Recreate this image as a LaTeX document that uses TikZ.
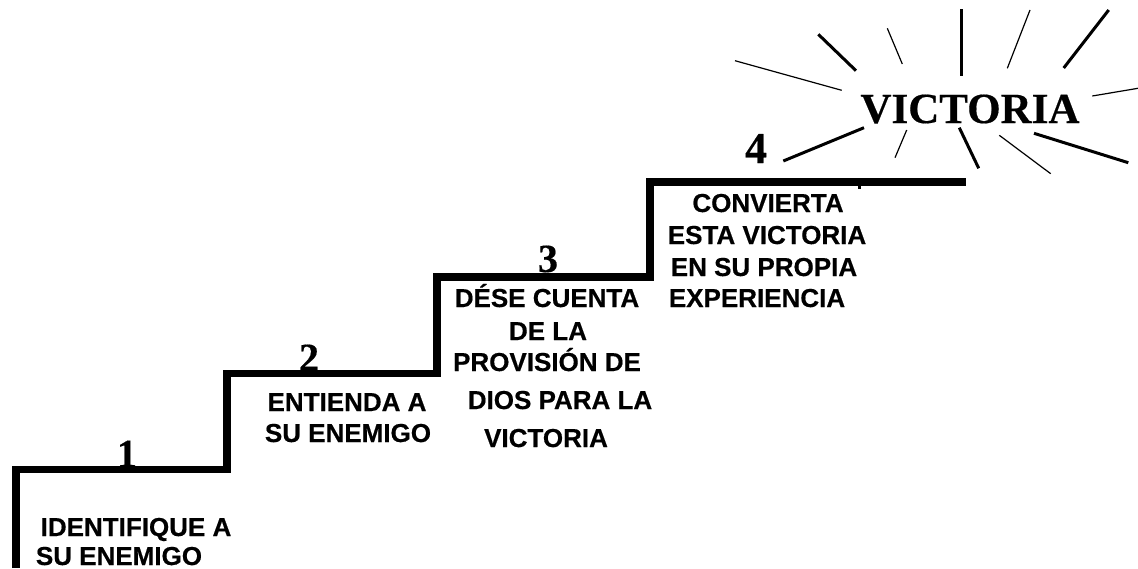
\documentclass[tikz,border=0pt]{standalone}
\usepackage{fontspec}
\setmainfont{Liberation Sans}[BoldFeatures={FakeBold=0.5}]
\newfontfamily\serifnum{Liberation Serif}[BoldFeatures={FakeBold=0.4}]
\tikzset{
  x=1pt,y=-1pt,
  stairline/.style={line width=7.5pt,line cap=butt,line join=miter},
  raythick/.style={line width=3pt},
  raythin/.style={line width=1.2pt},
  lab/.style={anchor=base,inner sep=0pt,font=\fontsize{26}{28}\selectfont\bfseries},
  numlab/.style={anchor=base,inner sep=0pt,font=\fontsize{40}{44}\selectfont\serifnum\bfseries},
}
\begin{document}
\begin{tikzpicture}
\useasboundingbox (0,0) rectangle (1138,568);
\fill[white] (0,0) rectangle (1138,568);
% numbers
\node[numlab] (n1) at (127,467) {1};
\node[numlab] (n2) at (309,371) {2};
\node[numlab] (n3) at (548,272) {3};
\node[numlab,font=\fontsize{44}{48}\selectfont\serifnum\bfseries] (n4) at (756,163) {4};
% stairs
\draw[stairline] (16,568) -- (16,469.5) -- (227,469.5) -- (227,373.5) -- (437,373.5) -- (437,277) -- (650,277) -- (650,182) -- (966,182);
\fill (858,182) rectangle (861,189);
% victory
\node[anchor=base,inner sep=0pt,font=\fontsize{43}{46}\selectfont\serifnum\bfseries] (vic) at (970,123) {VICTORIA};
% rays
\draw[raythick] (818.3,34.3) -- (856,70.7);
\draw[raythin] (887.3,28.3) -- (902.3,64);
\draw[raythick] (961,9.3) -- (961,75.7);
\draw[raythin] (1030,10) -- (1007.3,68.3);
\draw[raythick] (1108.7,10) -- (1063.7,68);
\draw[raythin] (1138,88.3) -- (1092.3,96);
\draw[raythin] (735,60.7) -- (841.7,90.3);
\draw[raythick] (864,127.7) -- (783.3,161);
\draw[raythin] (906.7,130) -- (895,157.7);
\draw[raythick] (959.3,127.7) -- (978.7,168.3);
\draw[raythin] (999.3,135.3) -- (1050.7,173.7);
\draw[raythick] (1034,133.3) -- (1128.3,162.7);
% labels
\node[lab] (a1) at (136,536) {IDENTIFIQUE A};
\node[lab] (a2) at (119,565) {SU ENEMIGO};
\node[lab] (b1) at (347,411) {ENTIENDA A};
\node[lab] (b2) at (348,442) {SU ENEMIGO};
\node[lab] (c1) at (547,307) {DÉSE CUENTA};
\node[lab] (c2) at (548,340) {DE LA};
\node[lab] (c3) at (547,371) {PROVISIÓN DE};
\node[lab] (c4) at (560,409) {DIOS PARA LA};
\node[lab] (c5) at (546,447) {VICTORIA};
\node[lab] (d1) at (768,212) {CONVIERTA};
\node[lab] (d2) at (767,244) {ESTA VICTORIA};
\node[lab] (d3) at (764,276) {EN SU PROPIA};
\node[lab] (d4) at (757,307) {EXPERIENCIA};
\end{tikzpicture}
\end{document}
